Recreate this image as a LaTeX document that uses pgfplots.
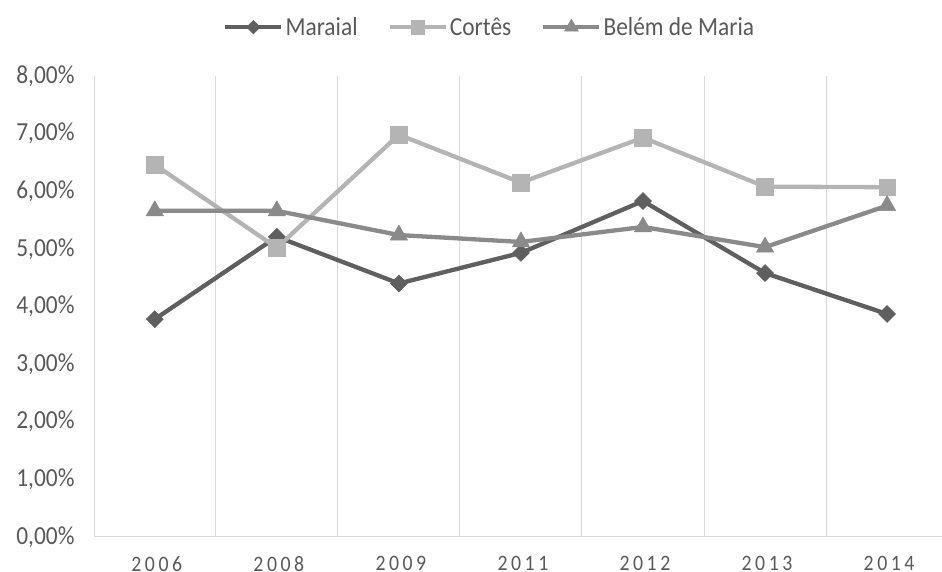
\documentclass[border=0pt]{standalone}
\usepackage{pgfplots}
\pgfplotsset{compat=1.18}
\usepackage{fontspec}
\setmainfont{Carlito}[FakeStretch=0.9]
\definecolor{txt}{HTML}{595959}
\definecolor{gridc}{HTML}{D9D9D9}
\definecolor{cMar}{HTML}{5F5F5F}
\definecolor{cCor}{HTML}{B4B4B4}
\definecolor{cBel}{HTML}{8A8A8A}
\begin{document}
\begin{tikzpicture}
\begin{axis}[
  name=ax,
  scale only axis,
  width=847pt, height=461pt,
  xmin=-0.49, xmax=6.45,
  ymin=0, ymax=8,
  axis x line*=bottom,
  axis y line*=left,
  x axis line style={draw=gridc, line width=1pt, -},
  y axis line style={draw=gridc, line width=1pt, -},
  xtick={0,1,2,3,4,5,6},
  xticklabels={2006,2008,2009,2011,2012,2013,2014},
  minor xtick={0.5,1.5,2.5,3.5,4.5,5.5},
  xminorgrids=true,
  minor grid style={draw=gridc, line width=1pt},
  major tick length=0pt,
  minor tick length=0pt,
  ytick={0,1,2,3,4,5,6,7,8},
  yticklabels={{0,00\%},{1,00\%},{2,00\%},{3,00\%},{4,00\%},{5,00\%},{6,00\%},{7,00\%},{8,00\%}},
  /pgf/number format/assume math mode=true,
  yticklabel style={font=\fontsize{26}{30}\selectfont, text=txt, xshift=-17pt},
  xticklabel style={font=\fontsize{22}{26}\selectfont\addfontfeature{LetterSpace=16}, text=txt, inner sep=0pt, anchor=north, yshift=-19pt, xshift=2pt},
  legend columns=3,
  legend style={draw=none, fill=none, at={(axis description cs:0.466,1.106)}, anchor=center,
    font=\fontsize{26}{30}\selectfont, text=txt,
    /tikz/every even column/.append style={column sep=28pt}},
  legend image code/.code={\draw[mark repeat=2,mark phase=2,mark size=0.8*\pgfplotmarksize] plot coordinates {(0pt,0pt) (28pt,0pt) (56pt,0pt)};},
  clip=false,
]
\addplot[cMar, line width=4.3pt, mark=square*, mark size=6pt, mark options={solid, rotate=45, line width=0.5pt, fill=cMar}]
  coordinates {(0,3.78) (1,5.21) (2,4.40) (3,4.93) (4,5.83) (5,4.58) (6,3.87)};
\addlegendentry{Maraial}
\addplot[cCor, line width=4.3pt, mark=square*, mark size=8.3pt, mark options={solid, line width=0.5pt, fill=cCor}]
  coordinates {(0,6.46) (1,5.02) (2,6.98) (3,6.15) (4,6.93) (5,6.08) (6,6.07)};
\addlegendentry{Cortês}
\addplot[cBel, line width=4.3pt, mark=triangle*, mark size=10pt, mark options={solid, line width=0.5pt, fill=cBel}]
  coordinates {(0,5.66) (1,5.66) (2,5.24) (3,5.12) (4,5.38) (5,5.03) (6,5.75)};
\addlegendentry{Belém de Maria}
\end{axis}
\pgfresetboundingbox
\path[use as bounding box] (ax.south west) ++(-95pt,-35pt) rectangle ++(942pt,572pt);
\end{tikzpicture}
\end{document}
